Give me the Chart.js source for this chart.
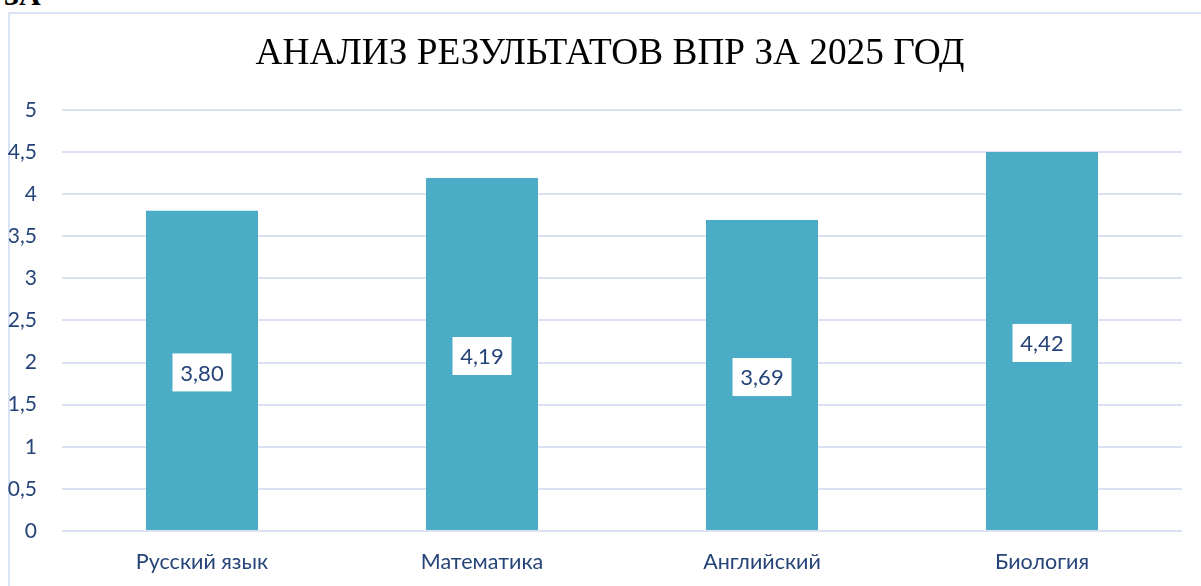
<!DOCTYPE html>
<html><head><meta charset="utf-8">
<script src="https://cdn.jsdelivr.net/npm/chart.js@4"></script>
<style>
html,body{margin:0;padding:0;background:#fff;width:1201px;height:586px;overflow:hidden;position:relative;}
#frame{position:absolute;left:8px;top:12px;width:1300px;height:700px;border:2px solid #dae3f3;box-sizing:border-box;}
#corner{position:absolute;left:4px;top:-22px;font-family:"Liberation Serif",serif;font-weight:bold;font-size:30px;color:#000;}
#wrap{position:absolute;left:0;top:0;width:1221px;height:586px;}
</style></head>
<body>
<div id="frame"></div>
<div id="corner">3А</div>
<div id="wrap"><canvas id="c" width="1221" height="586"></canvas></div>
<script>
const categories = ["Русский язык", "Математика", "Английский", "Биология"];
const barValues = [3.80, 4.19, 3.69, 4.50];
const labelTexts = ["3,80", "4,19", "3,69", "4,42"];
const titleText = "АНАЛИЗ РЕЗУЛЬТАТОВ ВПР ЗА 2025 ГОД";

const textColor = "#264478";
const labelPlugin = {
  id: "boxLabels",
  afterLayout(chart) {
    if (chart.titleBlock) { chart.titleBlock.left += 38; }
  },
  afterDatasetsDraw(chart) {
    const ctx = chart.ctx;
    const meta = chart.getDatasetMeta(0);
    ctx.save();
    ctx.font = "22px Lato, 'Open Sans', sans-serif";
    ctx.textAlign = "center";
    ctx.textBaseline = "middle";
    meta.data.forEach((el, i) => {
      const cx = el.x;
      const cy = (el.y + el.base) / 2 + 2;
      const w = 59, h = 38;
      ctx.fillStyle = "#ffffff";
      ctx.fillRect(cx - w / 2, cy - h / 2, w, h);
      ctx.fillStyle = textColor;
      ctx.fillText(labelTexts[i], cx, cy + 1);
    });
    ctx.restore();
  }
};

new Chart(document.getElementById("c"), {
  type: "bar",
  data: {
    labels: categories,
    datasets: [{
      data: barValues,
      backgroundColor: "#4bacc6",
      barPercentage: 0.4,
      categoryPercentage: 1.0
    }]
  },
  options: {
    responsive: false,
    animation: false,
    devicePixelRatio: 1,
    layout: { padding: { left: 0, right: 39, top: 0, bottom: 0 } },
    plugins: {
      legend: { display: false },
      tooltip: { enabled: false },
      title: {
        display: true,
        text: titleText,
        color: "#000",
        font: { family: "'Liberation Serif', serif", size: 37.3, weight: "normal", lineHeight: 1.2 },
        padding: { top: 32, bottom: 33 }
      }
    },
    scales: {
      x: {
        grid: { display: false, drawTicks: false },
        border: { display: false },
        ticks: { color: textColor, font: { family: "Lato, 'Open Sans', sans-serif", size: 21.5 }, padding: 18 },
        afterFit(s) { s.height = 55; }
      },
      y: {
        min: 0, max: 5,
        grid: { color: "#d9e1f2", lineWidth: 2, drawTicks: false },
        border: { display: false },
        ticks: {
          stepSize: 0.5,
          color: textColor,
          font: { family: "Lato, 'Open Sans', sans-serif", size: 21 },
          padding: 25,
          callback: v => String(v).replace(".", ",")
        },
        afterFit(s) { s.width = 62; }
      }
    }
  },
  plugins: [labelPlugin]
});
</script>
</body></html>
